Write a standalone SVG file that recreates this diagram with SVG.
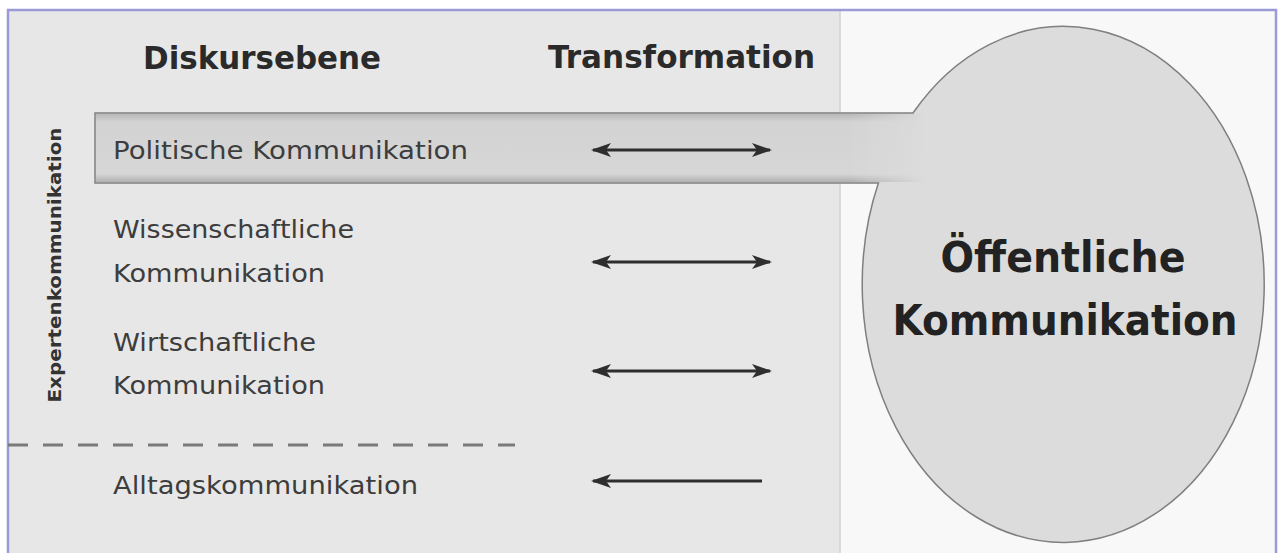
<svg xmlns="http://www.w3.org/2000/svg" width="1278" height="553" viewBox="0 0 1278 553">
<defs>
<style>
.t{font-family:"DejaVu Sans","Liberation Sans",sans-serif;fill:#3d3d3d;}
.lab{font-size:25px;}
.hd{font-size:32px;font-weight:bold;fill:#2a2a2a;}
.big{font-size:43px;font-weight:bold;fill:#222;}
.side{font-size:17px;font-weight:bold;fill:#333;}
.arr{stroke:#2e2e2e;stroke-width:3;fill:none;}
</style>
<marker id="ah" viewBox="0 0 20 14" refX="18" refY="7" markerWidth="20" markerHeight="14" markerUnits="userSpaceOnUse" orient="auto-start-reverse">
<path d="M0,0 L20,7 L0,14 L5,7 Z" fill="#2e2e2e"/>
</marker>
<linearGradient id="barg" x1="0" y1="0" x2="0" y2="1">
<stop offset="0" stop-color="#b8b8b8"/>
<stop offset="0.12" stop-color="#d3d3d3"/>
<stop offset="0.88" stop-color="#d6d6d6"/>
<stop offset="1" stop-color="#b0b0b0"/>
</linearGradient>
<linearGradient id="fade" gradientUnits="userSpaceOnUse" x1="850" y1="0" x2="925" y2="0">
<stop offset="0" stop-color="#fff" stop-opacity="1"/>
<stop offset="1" stop-color="#fff" stop-opacity="0"/>
</linearGradient>
<mask id="barmask" maskUnits="userSpaceOnUse" x="0" y="0" width="1278" height="553">
<rect x="0" y="0" width="1278" height="553" fill="url(#fade)"/>
</mask>
<clipPath id="unionclip">
<path d="M95,113 H913 A201,258 0 1,1 878.4,183 H95 Z"/>
</clipPath>
</defs>

<g id="background">
<rect x="8" y="10" width="832" height="543" fill="#e7e7e7"/>
<rect x="840" y="10" width="436" height="543" fill="#f8f8f8"/>
<line x1="840" y1="10" x2="840" y2="553" stroke="#d2d2d2" stroke-width="1.5"/>
<path d="M8,553 V10 H1276 V553" fill="none" stroke="#9a9ad8" stroke-width="2.5"/>
</g>

<g id="oeffentliche-kommunikation">
<path d="M95,113 H913 A201,258 0 1,1 878.4,183 H95 Z" fill="#dcdcdc" stroke="#7f7f7f" stroke-width="1.5"/>
<g clip-path="url(#unionclip)">
<rect x="96" y="114" width="840" height="68" fill="url(#barg)" mask="url(#barmask)"/>
</g>
<text class="t big" x="1063" y="272" text-anchor="middle" textLength="245" lengthAdjust="spacingAndGlyphs">Öffentliche</text>
<text class="t big" x="1065" y="335" text-anchor="middle" textLength="345" lengthAdjust="spacingAndGlyphs">Kommunikation</text>
</g>

<g id="headers">
<text class="t hd" x="143" y="69" textLength="238" lengthAdjust="spacingAndGlyphs">Diskursebene</text>
<text class="t hd" x="548" y="68" textLength="267" lengthAdjust="spacingAndGlyphs">Transformation</text>
</g>

<g id="expertenkommunikation">
<text class="t side" transform="translate(61,265) rotate(-90)" text-anchor="middle" textLength="275" lengthAdjust="spacingAndGlyphs">Expertenkommunikation</text>
</g>

<g id="politische">
<text class="t lab" x="113" y="159" textLength="355" lengthAdjust="spacingAndGlyphs">Politische Kommunikation</text>
</g>
<g id="wissenschaftliche">
<text class="t lab" x="113" y="238" textLength="241" lengthAdjust="spacingAndGlyphs">Wissenschaftliche</text>
<text class="t lab" x="113" y="282" textLength="212" lengthAdjust="spacingAndGlyphs">Kommunikation</text>
</g>
<g id="wirtschaftliche">
<text class="t lab" x="113" y="351" textLength="203" lengthAdjust="spacingAndGlyphs">Wirtschaftliche</text>
<text class="t lab" x="113" y="394" textLength="212" lengthAdjust="spacingAndGlyphs">Kommunikation</text>
</g>
<g id="alltag">
<text class="t lab" x="113" y="494" textLength="305" lengthAdjust="spacingAndGlyphs">Alltagskommunikation</text>
</g>

<g id="divider">
<line x1="8" y1="445" x2="515" y2="445" stroke="#7a7a7a" stroke-width="3" stroke-dasharray="20,15"/>
</g>

<g id="connectors">
<line class="arr" x1="593" y1="150" x2="770" y2="150" marker-start="url(#ah)" marker-end="url(#ah)"/>
<line class="arr" x1="593" y1="262" x2="770" y2="262" marker-start="url(#ah)" marker-end="url(#ah)"/>
<line class="arr" x1="593" y1="371" x2="770" y2="371" marker-start="url(#ah)" marker-end="url(#ah)"/>
<line class="arr" x1="593" y1="481" x2="762" y2="481" marker-start="url(#ah)"/>
</g>
</svg>
